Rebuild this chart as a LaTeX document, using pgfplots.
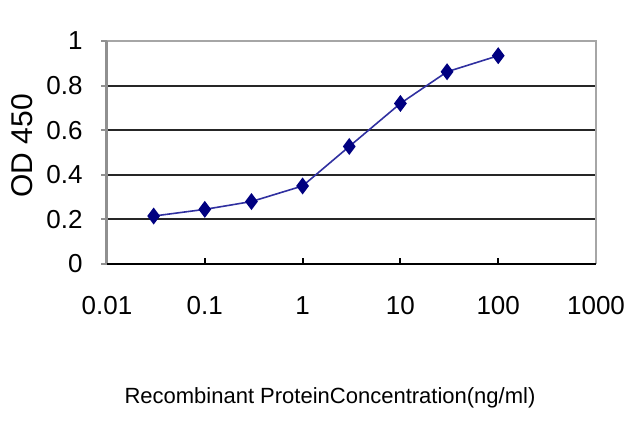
\documentclass[border=0pt]{standalone}
\usepackage{fontspec}
\setmainfont{Liberation Sans}
\usepackage{pgfplots}
\pgfplotsset{compat=1.18}

\definecolor{ser}{HTML}{000080}
\definecolor{serline}{HTML}{3030A0}
\definecolor{frame}{HTML}{909090}

\begin{document}
\begin{tikzpicture}
\path[use as bounding box] (-53.5pt,-81.5pt) rectangle (266.5pt,132pt);
\begin{axis}[
    at={(0,0)}, anchor=south west,
    scale only axis,
    width=244.5pt,
    height=111.5pt,
    xmode=log,
    xmin=0.01, xmax=1000,
    ymin=0, ymax=1,
    xtick={0.01,0.1,1,10,100,1000},
    xticklabels={0.01,0.1,1,10,100,1000},
    ytick={0,0.2,0.4,0.6,0.8,1},
    yticklabels={0,0.2,0.4,0.6,0.8,1},
    xminorticks=false,
    xtick pos=bottom, ytick pos=left,
    xtick align=inside, ytick align=outside,
    major tick length=3pt,
    x tick style={black, line width=1pt},
    y tick style={frame, line width=1pt},
    axis line style={draw=none},
    xticklabel style={font=\fontsize{13}{13}\selectfont, anchor=north, inner sep=0pt},
    yticklabel style={font=\fontsize{13}{13}\selectfont, anchor=east, inner sep=0pt},
    xticklabel shift=16pt,
    yticklabel shift=9pt,
    xlabel={Recombinant ProteinConcentration(ng/ml)},
    ylabel={OD 450},
    xlabel style={font=\fontsize{11}{11}\selectfont, at={(rel axis cs:0.456,-0.601)}, anchor=center},
    ylabel style={font=\fontsize{15}{15}\selectfont, at={(rel axis cs:-0.1728,0.53)}, anchor=center},
    clip=false,
]
% horizontal grid lines and frame
\foreach \yy in {0.2,0.4,0.6,0.8} {
  \edef\tmp{\noexpand\draw[black!85, line width=1pt] (axis cs:0.01,\yy) -- (axis cs:1000,\yy);}
  \tmp
}
\draw[frame!80, line width=1.2pt] (rel axis cs:0,1) -- (rel axis cs:1,1) -- (rel axis cs:1,0);
\draw[frame, line width=1.5pt] (rel axis cs:0,0) -- (rel axis cs:0,1);
\draw[black, line width=1.2pt] (rel axis cs:0,0) -- (rel axis cs:1,0);

\addplot[serline, line width=0.8pt, mark=diamond*, mark size=3.6pt,
    mark options={fill=ser, draw=ser}]
    coordinates {(0.03,0.215) (0.1,0.245) (0.3,0.28) (1,0.35) (3,0.527) (10,0.72) (30,0.862) (100,0.934)};
\end{axis}
\end{tikzpicture}
\end{document}
